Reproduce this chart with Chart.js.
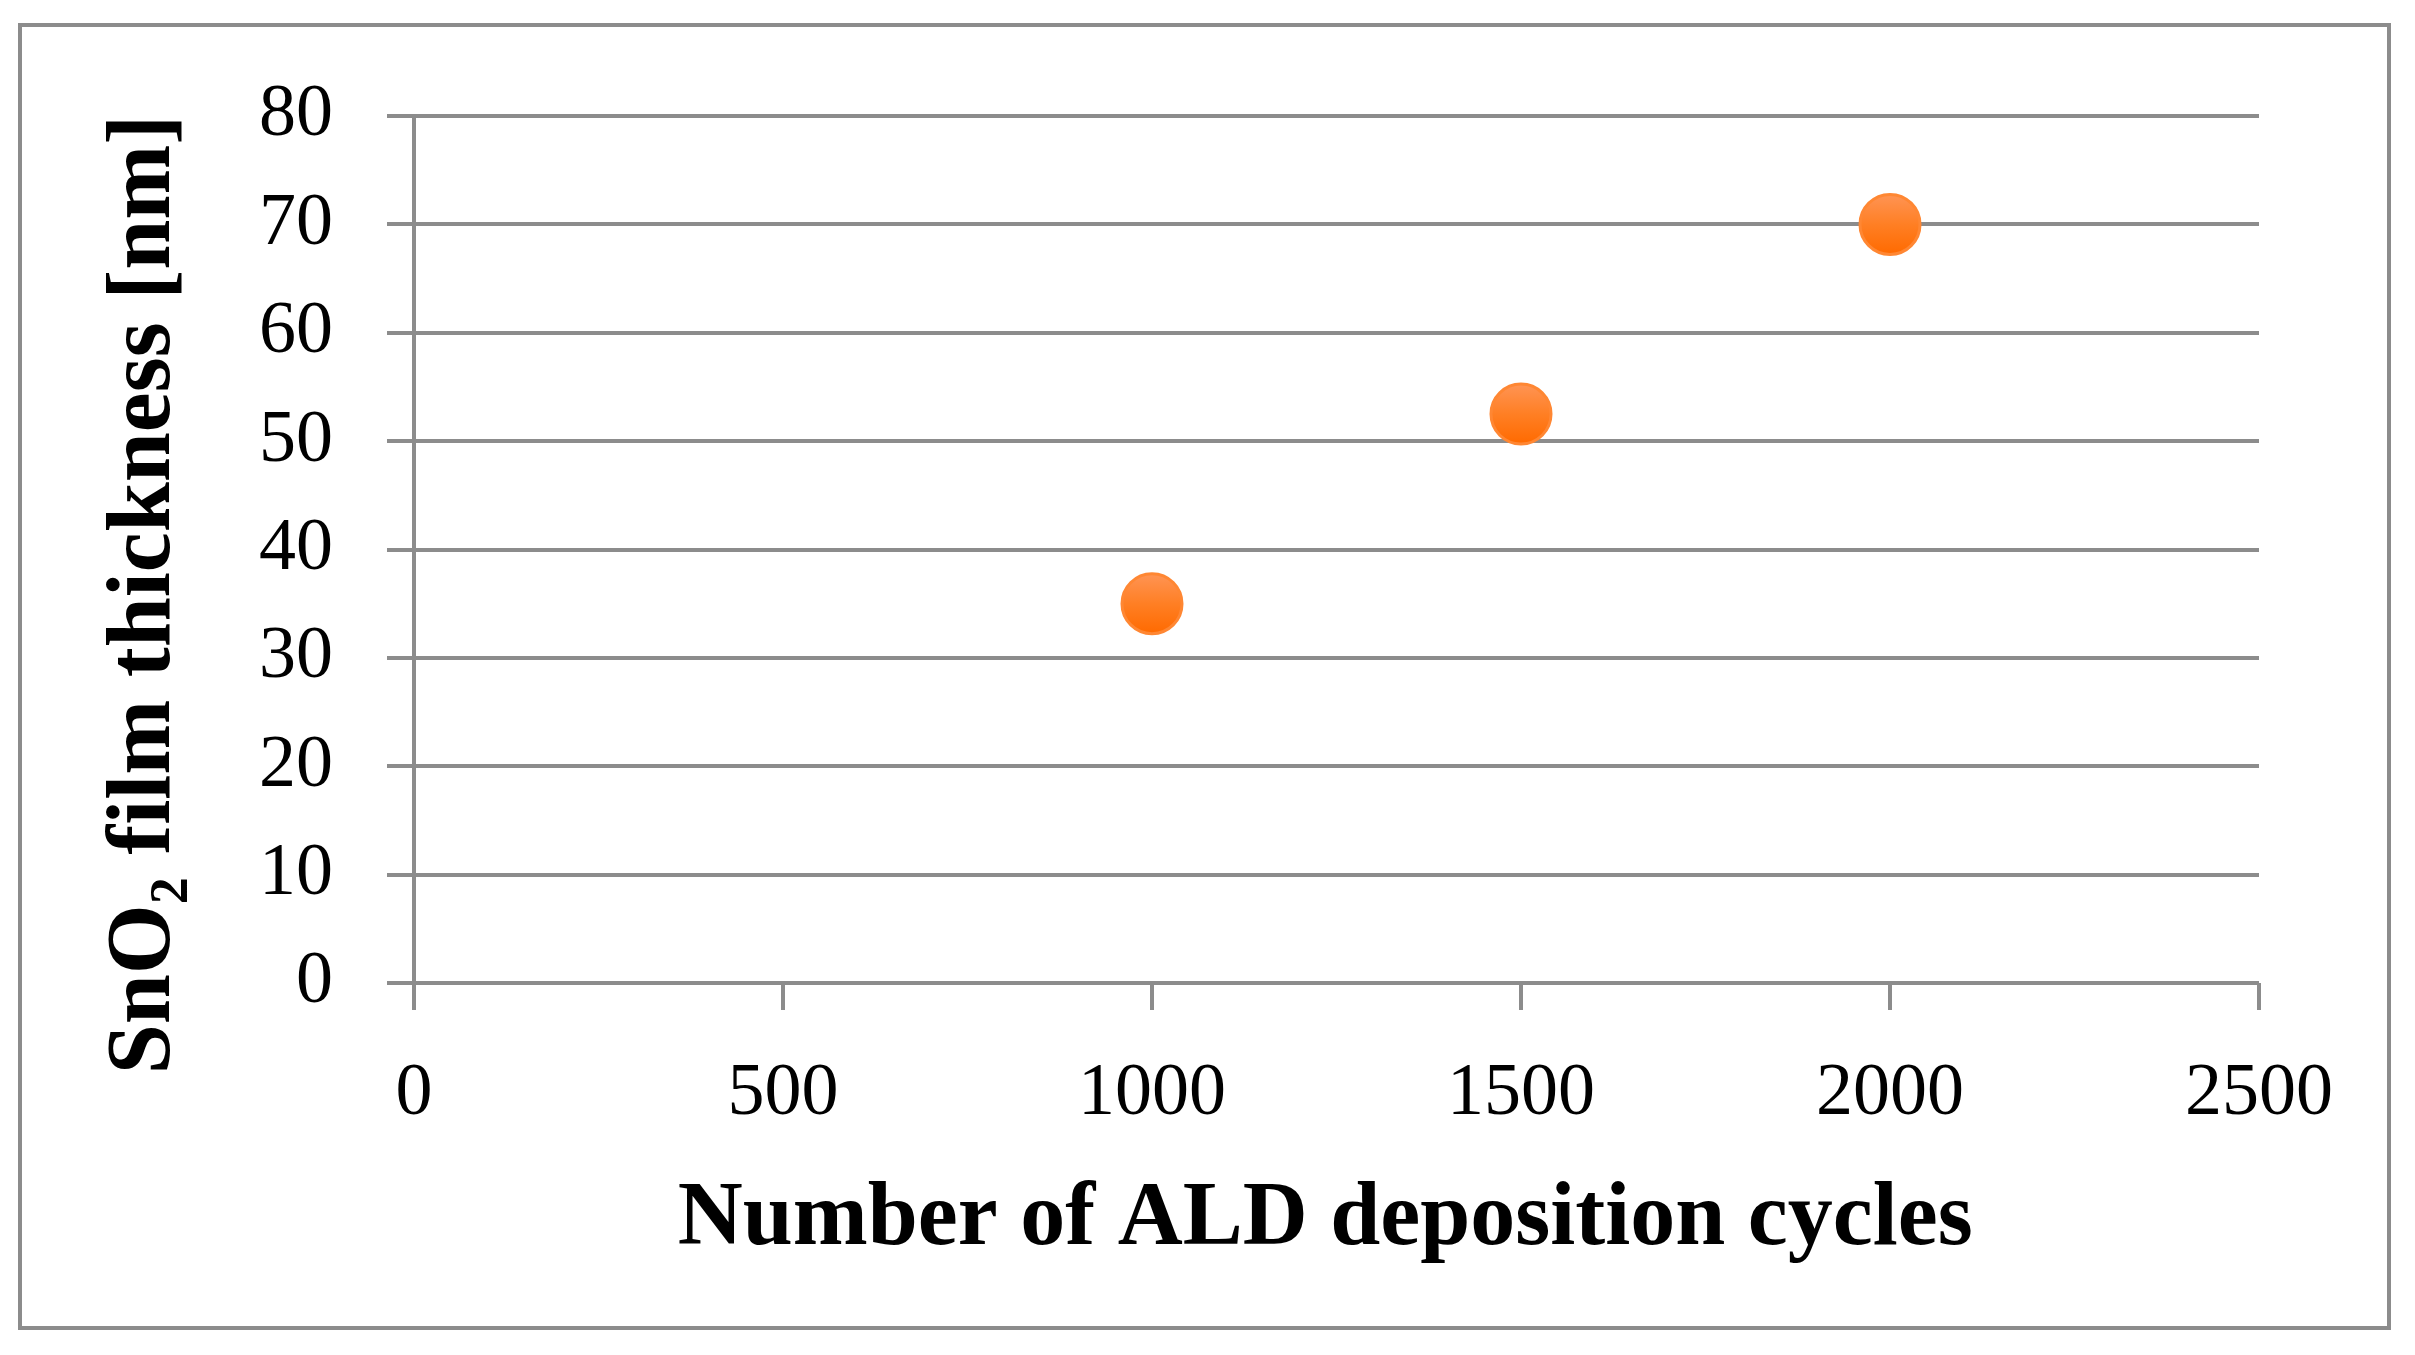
<!DOCTYPE html>
<html>
<head>
<meta charset="utf-8">
<script src="https://cdn.jsdelivr.net/npm/chart.js@4"></script>
<style>
  html, body { margin: 0; padding: 0; background: #fff; }
</style>
</head>
<body>
<canvas id="chart" width="2415" height="1355"></canvas>
<script>
const cycles = [1000, 1500, 2000];
const thickness = [35, 52.5, 70];
const xTicks = [0, 500, 1000, 1500, 2000, 2500];
const yTicks = [0, 10, 20, 30, 40, 50, 60, 70, 80];

const gray = '#8c8c8c';
const serif = "'Liberation Serif', 'Times New Roman', serif";
const markerR = 30;

// outer frame around the whole figure
const framePlugin = {
  id: 'frame',
  afterDraw(chart) {
    const ctx = chart.ctx;
    ctx.save();
    ctx.strokeStyle = gray;
    ctx.lineWidth = 4;
    ctx.strokeRect(20, 25, 2369, 1303);
    ctx.restore();
  }
};

// orange ball, lighter on top
const markerFill = (c) => {
  const ys = c.chart.scales && c.chart.scales.y;
  if (!ys || !c.parsed) return '#ff7a1c';
  const py = ys.getPixelForValue(c.parsed.y);
  if (!isFinite(py)) return '#ff7a1c';
  const g = c.chart.ctx.createLinearGradient(0, py - markerR, 0, py + markerR);
  g.addColorStop(0, '#ff9454');
  g.addColorStop(0.5, '#ff7f24');
  g.addColorStop(1, '#ff6a00');
  return g;
};

new Chart(document.getElementById('chart'), {
  type: 'scatter',
  data: {
    datasets: [{
      label: 'SnO2',
      data: cycles.map((c, i) => ({ x: c, y: thickness[i] })),
      backgroundColor: markerFill,
      borderColor: '#ff8733',
      borderWidth: 3,
      pointRadius: markerR,
      pointHoverRadius: markerR
    }]
  },
  options: {
    responsive: false,
    animation: false,
    devicePixelRatio: 1,
    layout: { padding: { left: 0, top: 116, right: 156, bottom: 0 } },
    plugins: { legend: { display: false }, tooltip: { enabled: false } },
    scales: {
      x: {
        type: 'linear',
        min: 0,
        max: 2500,
        afterBuildTicks: s => { s.ticks = xTicks.map(v => ({ value: v })); },
        afterFit: s => { s.height = 372; },
        grid: { drawOnChartArea: false, drawTicks: true, tickLength: 27, color: gray, lineWidth: 4 },
        border: { display: false },
        ticks: { color: '#000', padding: 40, font: { family: serif, size: 74 }, callback: v => String(v) },
        title: {
          display: true,
          text: 'Number of ALD deposition cycles ',
          color: '#000',
          font: { family: serif, size: 90, weight: 'bold' },
          padding: { top: 0, bottom: 80 }
        }
      },
      y: {
        min: 0,
        max: 80,
        afterBuildTicks: s => { s.ticks = yTicks.map(v => ({ value: v })); },
        afterFit: s => { s.width = 414; },
        grid: { drawTicks: true, tickLength: 27, color: gray, lineWidth: 4 },
        border: { display: true, color: gray, width: 4 },
        ticks: { color: '#000', padding: 54, font: { family: serif, size: 74 }, callback: v => String(v) },
        title: {
          display: true,
          // trailing spaces push the label down a little, like the original
          text: 'SnO₂ film thickness [nm]    ',
          color: '#000',
          font: { family: serif, size: 90, weight: 'bold' },
          padding: { top: 92, bottom: 0 }
        }
      }
    }
  },
  plugins: [framePlugin]
});
</script>
</body>
</html>
